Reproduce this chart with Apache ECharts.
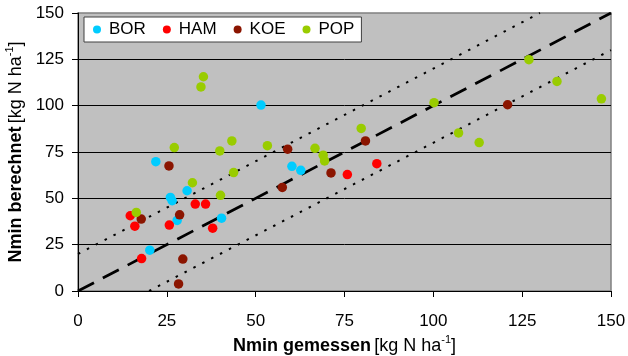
<!DOCTYPE html>
<html>
<head>
<meta charset="utf-8">
<script src="https://cdn.jsdelivr.net/npm/echarts@6/dist/echarts.min.js"></script>
<style>html,body{margin:0;padding:0;background:#fff}#c{width:628px;height:356px}</style>
</head>
<body>
<div id="c"></div>
<script>
const seriesNames = ['BOR', 'HAM', 'KOE', 'POP'];
const bor = [[21.9,69.8],[51.5,100.3],[30.7,54.1],[26.0,50.5],[26.5,48.7],[27.9,38.1],[40.4,39.3],[20.2,22.0],[60.2,67.3],[62.7,65.1]];
const ham = [[14.7,40.6],[16.0,35.0],[25.7,35.6],[33.0,46.9],[35.9,46.9],[37.9,33.9],[17.9,17.5],[75.8,62.8],[84.1,68.7]];
const koe = [[25.6,67.5],[17.8,38.8],[28.6,41.1],[29.5,17.2],[28.3,3.8],[59.0,76.5],[71.2,63.7],[57.5,55.9],[80.9,81.0],[120.9,100.5]];
const pop = [[35.3,115.6],[34.6,110.1],[27.1,77.4],[39.9,75.6],[43.3,81.0],[53.3,78.4],[43.8,63.9],[32.2,58.4],[40.1,51.6],[16.4,42.4],[66.7,77.0],[69.0,73.3],[69.4,70.2],[79.7,87.7],[100.2,101.6],[107.1,85.3],[112.9,80.1],[126.9,124.8],[134.8,113.1],[147.3,103.7]];
const lineOneToOne = [[0,0],[150,150]];
const lineUpper = [[0,20],[130,150]];
const lineLower = [[20,0],[150,130]];
const axisTicks = [0, 25, 50, 75, 100, 125, 150];

const colors = ['#00CCFF', '#FF0000', '#8B1500', '#99CC00'];
const FONT = 'Liberation Sans, Arial, sans-serif';
const chart = echarts.init(document.getElementById('c'), null, {renderer: 'canvas'});

const nameRich = {
  b: {fontFamily: FONT, fontSize: 18, fontWeight: 'bold', color: '#000', lineHeight: 22},
  n: {fontFamily: FONT, fontSize: 18, color: '#000', lineHeight: 22},
  s: {fontFamily: FONT, fontSize: 11, color: '#000', verticalAlign: 'top', lineHeight: 22}
};

const axisCommon = {
  type: 'value',
  min: axisTicks[0],
  max: axisTicks[axisTicks.length - 1],
  interval: axisTicks[1] - axisTicks[0],
  axisLine: {show: true, onZero: false, lineStyle: {color: '#000', width: 1}},
  axisTick: {show: true, inside: false, length: 6, lineStyle: {color: '#000', width: 1}},
  axisLabel: {color: '#000', fontFamily: FONT, fontSize: 17},
  nameLocation: 'middle',
  nameTextStyle: {rich: nameRich}
};

const scatter = (name, data, color) => ({
  name, type: 'scatter', data, symbol: 'circle', symbolSize: 9.5,
  itemStyle: {color, opacity: 1}, z: 5
});
const refLine = (data, type, width) => ({
  type: 'line', data, showSymbol: false, symbol: 'none', silent: true,
  lineStyle: {color: '#000', width, type}, z: 3
});

chart.setOption({
  animation: false,
  grid: {left: 78, right: 17, top: 13, bottom: 65, containLabel: false, outerBoundsMode: 'none',
    show: true, backgroundColor: '#C0C0C0', borderColor: '#808080', borderWidth: 1.5},
  legend: {
    data: seriesNames, left: 84, top: 17, orient: 'horizontal',
    icon: 'circle', itemWidth: 8, itemHeight: 8, itemGap: 17,
    backgroundColor: '#fff', borderColor: '#404040', borderWidth: 1,
    padding: [4, 7, 4, 9],
    textStyle: {fontFamily: FONT, fontSize: 17, color: '#000', padding: [0, 0, 0, 3]}
  },
  xAxis: Object.assign({}, axisCommon, {
    name: '{b|Nmin gemessen} {n|[kg N ha}{s|-1}{n|]}',
    nameGap: 40,
    splitLine: {show: false},
    axisLabel: Object.assign({}, axisCommon.axisLabel, {margin: 22})
  }),
  yAxis: Object.assign({}, axisCommon, {
    name: '{b|Nmin berechnet} {n|[kg N ha}{s|-1}{n|]}',
    nameGap: 43,
    splitLine: {show: true, showMinLine: false, showMaxLine: false, lineStyle: {color: '#000', width: 1}},
    axisLabel: Object.assign({}, axisCommon.axisLabel, {margin: 14})
  }),
  series: [
    refLine(lineOneToOne, [18, 10], 2.75),
    refLine(lineUpper, [2.5, 7.5], 2),
    refLine(lineLower, [2.5, 7.5], 2),
    scatter(seriesNames[0], bor, colors[0]),
    scatter(seriesNames[1], ham, colors[1]),
    scatter(seriesNames[2], koe, colors[2]),
    scatter(seriesNames[3], pop, colors[3])
  ]
});
</script>
</body>
</html>
